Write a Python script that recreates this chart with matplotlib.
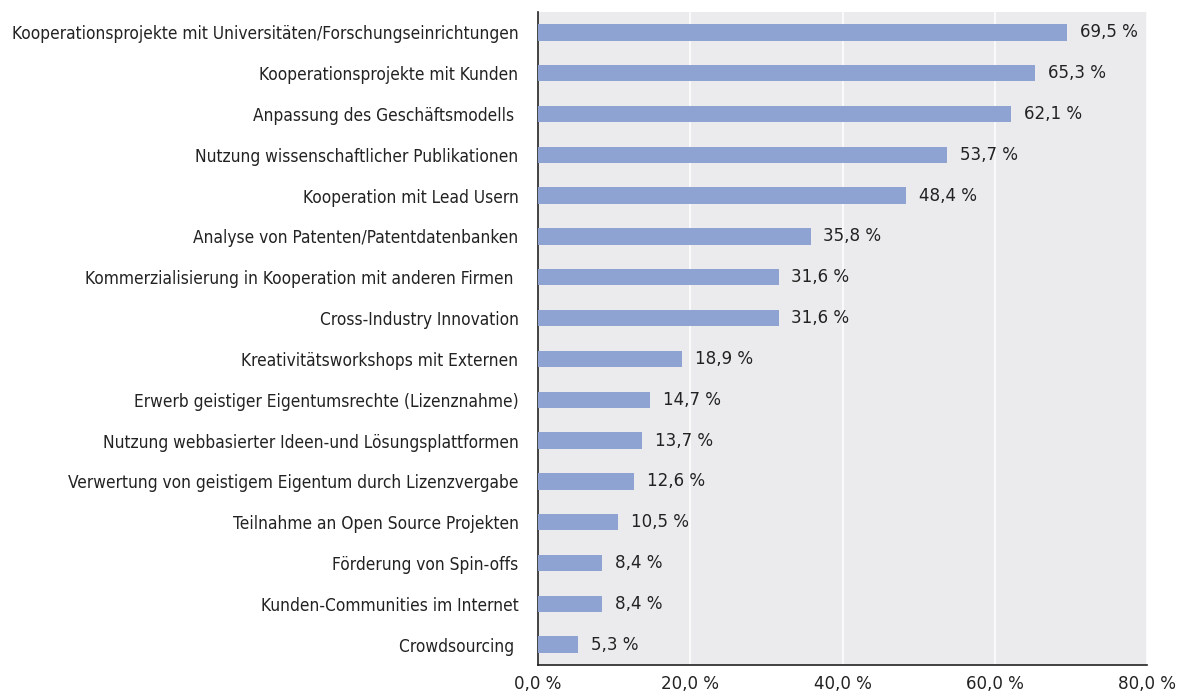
import matplotlib
matplotlib.use("Agg")
import matplotlib.pyplot as plt
from matplotlib import font_manager

############################### Data ######################################
categories = [
    "Kooperationsprojekte mit Universitäten/Forschungseinrichtungen",
    "Kooperationsprojekte mit Kunden",
    "Anpassung des Geschäftsmodells ",
    "Nutzung wissenschaftlicher Publikationen",
    "Kooperation mit Lead Usern",
    "Analyse von Patenten/Patentdatenbanken",
    "Kommerzialisierung in Kooperation mit anderen Firmen ",
    "Cross-Industry Innovation",
    "Kreativitätsworkshops mit Externen",
    "Erwerb geistiger Eigentumsrechte (Lizenznahme)",
    "Nutzung webbasierter Ideen-und Lösungsplattformen",
    "Verwertung von geistigem Eigentum durch Lizenzvergabe",
    "Teilnahme an Open Source Projekten",
    "Förderung von Spin-offs",
    "Kunden-Communities im Internet",
    "Crowdsourcing ",
]
values = [69.5, 65.3, 62.1, 53.7, 48.4, 35.8, 31.6, 31.6,
          18.9, 14.7, 13.7, 12.6, 10.5, 8.4, 8.4, 5.3]
x_ticks = [0, 20, 40, 60, 80]

############################### Fonts ######################################
names = {f.name for f in font_manager.fontManager.ttflist}
font_kw = {}
if "Liberation Sans Narrow" in names:
    font_kw = {"family": "Liberation Sans Narrow"}
else:
    font_kw = {"family": "DejaVu Sans", "stretch": "condensed"}
fsize = 12.4      # Kategorien
nsize = 13.3      # Zahlen

def fmt(v):
    return "{:.1f} %".format(v).replace(".", ",")

############################### Plot ######################################
fig = plt.figure(figsize=(11.83, 6.95), dpi=100)
ax = fig.add_axes([538 / 1183, 1 - 665 / 695, (1147 - 538) / 1183, (665 - 12) / 695])
ax.set_facecolor("#ebebee")

ypos = list(range(len(categories)))
ax.barh(ypos, values, height=0.4, color="#8fa3d3", zorder=3)
ax.set_ylim(len(categories) - 0.5, -0.5)
ax.set_xlim(0, 80)

ax.set_xticks(x_ticks)
ax.set_xticklabels([fmt(t) for t in x_ticks], fontsize=nsize, color="#222222", **font_kw)
ax.set_yticks(ypos)
ax.set_yticklabels(categories, fontsize=fsize, color="#222222", **font_kw)
ax.tick_params(axis="both", length=0)
ax.tick_params(axis="y", pad=14)
ax.tick_params(axis="x", pad=7)

ax.grid(axis="x", color="white", linewidth=1.1, zorder=1)
ax.set_axisbelow(True)

for s in ["top", "right"]:
    ax.spines[s].set_visible(False)
for s in ["left", "bottom"]:
    ax.spines[s].set_color("#222222")
    ax.spines[s].set_linewidth(1.2)

for y, v in zip(ypos, values):
    ax.text(v + 1.7, y, fmt(v), va="center", ha="left", fontsize=nsize,
            color="#222222", zorder=4, **font_kw)

fig.savefig("out.png", dpi=100)
